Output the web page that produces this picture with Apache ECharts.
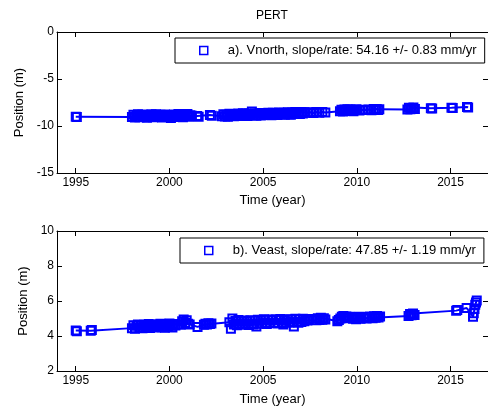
<!DOCTYPE html>
<html>
<head>
<meta charset="utf-8">
<script src="https://cdn.jsdelivr.net/npm/echarts@6/dist/echarts.min.js"></script>
<style>
  html, body { margin: 0; padding: 0; background: #fff; }
  #chart { width: 488px; height: 407px; }
</style>
</head>
<body>
<div id="chart"></div>
<script>
// ---------- data ----------
const titleText = 'PERT';
const northName = 'a). Vnorth, slope/rate: 54.16 +/- 0.83 mm/yr';
const eastName  = 'b). Veast, slope/rate: 47.85 +/- 1.19 mm/yr';
const xTickLabels = [1995, 2000, 2005, 2010, 2015];
const northTicks = [-15, -10, -5, 0];
const eastTicks = [2, 4, 6, 8, 10];

const northTime = [
  1995.00, 1995.06,
  1998.00,1998.08,1998.16,1998.24,1998.32,1998.40,1998.48,1998.56,1998.64,1998.72,
  1998.80,1998.88,1998.96,1999.04,1999.12,1999.20,1999.28,1999.36,1999.44,1999.52,
  1999.60,1999.68,1999.76,1999.84,1999.92,2000.00,2000.08,2000.16,2000.24,2000.32,
  2000.40,2000.48,2000.56,2000.64,2000.72,2000.80,2000.88,2000.96,2001.04,2001.12,2001.20,
  2001.48,2001.56,2002.16,2002.26,
  2002.80,2002.88,2002.96,2003.04,2003.12,2003.20,2003.28,2003.36,2003.44,2003.52,
  2003.60,2003.68,2003.76,2003.84,2003.92,2004.00,2004.08,2004.16,2004.24,2004.32,
  2004.40,2004.48,2004.56,2004.64,2004.72,2004.80,2004.88,2004.96,2005.04,2005.12,
  2005.20,2005.28,2005.36,2005.44,2005.52,2005.60,2005.68,2005.76,2005.84,2005.92,
  2006.00,2006.08,2006.16,2006.24,2006.32,2006.40,2006.48,2006.56,2006.64,2006.72,
  2006.80,2006.88,2006.96,2007.04,2007.12,2007.20,
  2007.36,2007.52,2007.68,2007.84,2008.00,2008.16,2008.32,
  2009.10,2009.18,2009.26,2009.34,2009.42,2009.50,2009.58,2009.66,2009.74,2009.82,2009.90,2009.98,
  2010.14,2010.30,2010.46,2010.62,2010.78,2010.90,2010.98,2011.06,2011.14,2011.20,
  2012.70,2012.78,2012.86,2012.94,2013.02,2013.10,
  2013.95,2014.02,2015.05,2015.12,2015.88,2015.94
];
const northPos = [
  -9.02, -9.05,
  -9.05,-8.80,-9.10,-8.85,-8.75,-9.08,-8.90,-8.78,-9.02,-8.86,
  -9.12,-8.82,-8.98,-8.76,-9.06,-8.88,-8.74,-9.00,-8.84,-8.79,
  -9.09,-8.93,-8.77,-8.97,-8.83,-9.04,-9.15,-8.87,-8.78,-9.03,
  -8.89,-8.73,-8.99,-8.81,-9.07,-8.80,-8.92,-8.72,-9.01,-8.85,-8.90,
  -8.93,-9.02,-8.84,-8.92,
  -8.95,-8.74,-8.99,-8.80,-9.02,-8.70,-8.92,-8.76,-8.97,-8.72,
  -8.90,-8.66,-8.94,-8.75,-8.64,-8.88,-8.70,-8.93,-8.66,-8.82,
  -8.45,-8.86,-8.68,-8.90,-8.70,-8.62,-8.87,-8.66,-8.84,-8.63,
  -8.83,-8.60,-8.78,-8.86,-8.58,-8.80,-8.65,-8.84,-8.57,-8.75,
  -8.76,-8.58,-8.79,-8.62,-8.54,-8.74,-8.80,-8.56,-8.72,-8.52,
  -8.70,-8.53,-8.72,-8.50,-8.66,-8.55,
  -8.60,-8.54,-8.61,-8.52,-8.58,-8.51,-8.56,
  -8.42,-8.28,-8.45,-8.25,-8.40,-8.22,-8.38,-8.24,-8.36,-8.43,-8.30,-8.21,
  -8.34,-8.27,-8.31,-8.24,-8.33,-8.20,-8.30,-8.18,-8.29,-8.23,
  -8.24,-8.06,-8.22,-8.08,-8.04,-8.18,
  -8.10,-8.14,-8.06,-8.09,-7.98,-8.02
];

const eastTime = [
  1995.00, 1995.06, 1995.80, 1995.86,
  1998.00,1998.08,1998.16,1998.24,1998.32,1998.40,1998.48,1998.56,1998.64,1998.72,
  1998.80,1998.88,1998.96,1999.04,1999.12,1999.20,1999.28,1999.36,1999.44,1999.52,
  1999.60,1999.68,1999.76,1999.84,1999.92,2000.00,2000.08,2000.16,2000.24,2000.32,
  2000.60,2000.68,2000.76,2000.84,2000.92,2001.00,2001.08,
  2001.50,
  2001.84,2001.92,2002.00,2002.08,2002.16,2002.24,
  2003.20,2003.28,2003.36,2003.44,2003.52,2003.60,2003.68,2003.76,2003.84,2003.92,
  2004.00,2004.08,2004.16,2004.24,2004.32,2004.40,2004.48,2004.56,2004.64,2004.72,
  2004.80,2004.88,2004.96,2005.04,2005.12,2005.20,2005.28,2005.36,2005.44,2005.52,
  2005.60,2005.68,2005.76,2005.84,2005.92,2006.00,2006.08,2006.16,2006.24,2006.32,
  2006.40,2006.48,2006.56,2006.64,2006.72,2006.80,2006.88,2006.96,2007.04,2007.12,
  2007.20,2007.28,2007.36,2007.44,
  2007.84,2007.92,2008.00,2008.08,2008.16,2008.24,2008.32,
  2008.96,2009.04,2009.12,2009.20,2009.28,2009.36,2009.44,2009.52,2009.60,
  2009.80,2009.88,2009.96,2010.04,2010.12,2010.20,2010.36,2010.52,2010.68,2010.84,
  2010.92,2011.00,2011.08,2011.16,2011.24,
  2012.76,2012.84,2012.92,2013.00,2013.08,
  2015.30,2015.36,2015.86,2016.20,2016.24,2016.28,2016.32,2016.36,2016.40
];
const eastPos = [
  4.32, 4.27, 4.30, 4.35,
  4.45,4.62,4.42,4.58,4.66,4.47,4.60,4.44,4.64,4.50,
  4.57,4.68,4.46,4.63,4.52,4.67,4.48,4.62,4.55,4.70,
  4.50,4.65,4.47,4.68,4.56,4.71,4.58,4.49,4.69,4.60,
  4.65,4.85,4.95,4.75,4.90,4.70,4.66,
  4.52,
  4.64,4.70,4.66,4.73,4.68,4.71,
  4.78,4.42,5.00,4.66,4.86,4.62,4.92,4.70,4.84,4.64,
  4.88,4.68,4.85,4.63,4.90,4.72,4.66,4.87,4.55,4.93,
  4.72,4.90,4.70,4.96,4.76,4.68,4.93,4.74,4.88,4.95,
  4.75,4.94,4.72,4.90,4.97,4.74,4.66,4.92,4.78,4.96,
  4.76,4.95,4.80,4.55,4.98,4.82,4.76,4.96,4.80,4.99,
  4.84,4.95,4.88,4.97,
  4.90,5.02,4.92,5.04,4.93,5.01,4.95,
  4.84,4.92,5.00,5.10,5.14,5.04,5.12,5.02,5.10,
  4.98,5.08,4.96,5.06,5.10,4.99,5.09,5.00,5.12,5.02,
  5.13,5.04,5.15,5.06,5.12,
  5.14,5.26,5.18,5.28,5.20,
  5.45,5.49,5.60,5.10,5.30,5.55,5.78,5.92,6.03
];

// ---------- chart ----------
const FONT = 'Liberation Sans, Arial, Helvetica, sans-serif';
const BLUE = '#0000ff';
const chart = echarts.init(document.getElementById('chart'), null, { renderer: 'canvas' });

function pairs(t, v) { return t.map((x, i) => [x, v[i]]); }

function xAxes(gridIndex, nameGap) {
  const common = {
    type: 'value', gridIndex: gridIndex, min: 1994, max: 2017,
    splitLine: { show: false },
    axisLine: { show: true, onZero: false, lineStyle: { color: '#000', width: 1 } },
    axisTick: { show: true, inside: true, length: 5, customValues: xTickLabels, lineStyle: { color: '#000' } }
  };
  return [
    Object.assign({}, common, {
      position: 'bottom',
      name: 'Time (year)', nameLocation: 'middle', nameGap: nameGap,
      nameTextStyle: { fontFamily: FONT, fontSize: 13, color: '#000' },
      axisLabel: { show: true, customValues: xTickLabels, margin: 4, fontFamily: FONT, fontSize: 12, color: '#000',
                   formatter: function (v) { return String(v); } }
    }),
    Object.assign({}, common, { position: 'top', axisLabel: { show: false } })
  ];
}
function yAxes(gridIndex, ticks, nameGap) {
  const common = {
    type: 'value', gridIndex: gridIndex, min: ticks[0], max: ticks[ticks.length - 1],
    interval: ticks[1] - ticks[0],
    splitLine: { show: false },
    axisLine: { show: true, onZero: false, lineStyle: { color: '#000', width: 1 } },
    axisTick: { show: true, inside: true, length: 5, lineStyle: { color: '#000' } }
  };
  return [
    Object.assign({}, common, {
      position: 'left',
      name: 'Position (m)', nameLocation: 'middle', nameGap: nameGap, nameRotate: 90,
      nameTextStyle: { fontFamily: FONT, fontSize: 13, color: '#000' },
      axisLabel: { show: true, margin: 3, fontFamily: FONT, fontSize: 12, color: '#000' }
    }),
    Object.assign({}, common, { position: 'right', axisLabel: { show: false } })
  ];
}

function seriesFor(name, t, v, gi) {
  const d = pairs(t, v);
  return [
    {
      name: name + ' (line)', type: 'line',
      xAxisIndex: gi * 2, yAxisIndex: gi * 2,
      data: d, symbol: 'none',
      lineStyle: { color: BLUE, width: 2 },
      emphasis: { disabled: true }, z: 2
    },
    {
      name: name, type: 'scatter',
      xAxisIndex: gi * 2, yAxisIndex: gi * 2,
      data: d, symbol: 'rect', symbolSize: 8,
      itemStyle: { color: 'rgba(0,0,0,0)', borderColor: BLUE, borderWidth: 2, opacity: 1 },
      emphasis: { disabled: true }, z: 3
    }
  ];
}

function legendFor(name, left, top) {
  return {
    data: [name], left: left, top: top,
    orient: 'horizontal',
    padding: [6, 8, 6, 24],
    itemWidth: 8, itemHeight: 8,
    icon: 'rect',
    backgroundColor: '#fff', borderColor: '#000', borderWidth: 1, borderRadius: 0,
    itemStyle: { color: 'rgba(0,0,0,0)', borderColor: BLUE, borderWidth: 1.5 },
    textStyle: { fontFamily: FONT, fontSize: 13, color: '#000', padding: [0, 0, 0, 15] },
    selectedMode: false
  };
}

const option = {
  animation: false,
  backgroundColor: '#fff',
  title: {
    text: titleText, left: 256, top: 10, padding: 0,
    textStyle: { fontFamily: FONT, fontSize: 12, fontWeight: 'normal', color: '#000' }
  },
  legend: [legendFor(northName, 175, 38), legendFor(eastName, 180, 238)],
  grid: [
    { left: 57, top: 32, width: 433, height: 141, containLabel: false },
    { left: 57, top: 231, width: 433, height: 140, containLabel: false }
  ],
  xAxis: xAxes(0, 21).concat(xAxes(1, 22)),
  yAxis: yAxes(0, northTicks, 28).concat(yAxes(1, eastTicks, 25)),
  series: seriesFor(northName, northTime, northPos, 0).concat(seriesFor(eastName, eastTime, eastPos, 1))
};
chart.setOption(option);
</script>
</body>
</html>
